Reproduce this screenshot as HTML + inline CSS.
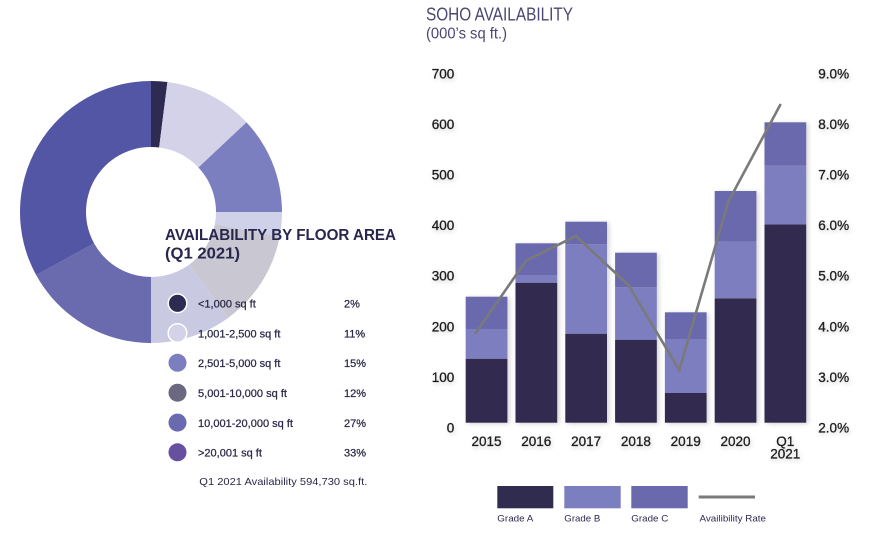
<!DOCTYPE html>
<html>
<head>
<meta charset="utf-8">
<style>
  html,body{margin:0;padding:0;background:#fff;}
  svg{display:block;}
  text{font-family:"Liberation Sans",sans-serif;}
</style>
</head>
<body>
<svg width="869" height="546" viewBox="0 0 869 546" xmlns="http://www.w3.org/2000/svg">
  <defs>
    <filter id="sh" x="-20%" y="-10%" width="150%" height="130%">
      <feDropShadow dx="2" dy="1" stdDeviation="2.5" flood-color="#000" flood-opacity="0.18"/>
    </filter>
    <filter id="tsh" x="-30%" y="-50%" width="160%" height="220%">
      <feDropShadow dx="1" dy="2" stdDeviation="2" flood-color="#000" flood-opacity="0.18"/>
    </filter>
  </defs>

  <!-- DONUT -->
  <g>
    <!-- 2% -->
    <path d="M151,81 A131,131 0 0,1 167.42,82.03 L159.15,147.51 A65,65 0 0,0 151,147 Z" fill="#2e2b52"/>
    <!-- 11% -->
    <path d="M167.42,82.03 A131,131 0 0,1 246.50,122.32 L198.38,167.50 A65,65 0 0,0 159.15,147.51 Z" fill="#d4d2e9"/>
    <!-- 15% -->
    <path d="M246.50,122.32 A131,131 0 0,1 279.68,236.55 L214.85,224.18 A65,65 0 0,0 198.38,167.50 Z" fill="#7b7fbf"/>
    <!-- 12% -->
    <path d="M279.68,236.55 A131,131 0 0,1 228.0,317.98 L189.21,264.59 A65,65 0 0,0 214.85,224.18 Z" fill="#6b6882"/>
    <!-- 27% -->
    <path d="M228.0,317.98 A131,131 0 0,1 36.20,275.11 L94.04,243.31 A65,65 0 0,0 189.21,264.59 Z" fill="#6a6aae"/>
    <!-- 33% -->
    <path d="M36.20,275.11 A131,131 0 0,1 151,81 L151,147 A65,65 0 0,0 94.04,243.31 Z" fill="#5355a5"/>
  </g>
  <!-- overlay -->
  <rect x="151" y="212" width="270" height="334" fill="#ffffff" fill-opacity="0.64"/>

  <!-- left title -->
  <text x="165" y="240" font-size="16" font-weight="bold" fill="#28264d" textLength="231" lengthAdjust="spacingAndGlyphs">AVAILABILITY BY FLOOR AREA</text>
  <text x="165" y="258.5" font-size="16" font-weight="bold" fill="#28264d" textLength="75" lengthAdjust="spacingAndGlyphs">(Q1 2021)</text>

  <!-- legend left -->
  <g font-size="11" fill="#2b2948" stroke="#2b2948" stroke-width="0.25">
    <circle cx="177.5" cy="303.3" r="9.3" fill="#2e2b52" stroke="#fff" stroke-width="1.5"/>
    <text x="198" y="307.5">&lt;1,000 sq ft</text>
    <text x="344" y="307.5">2%</text>

    <circle cx="177.5" cy="333" r="9.3" fill="#d4d2e9" stroke="#fff" stroke-width="1.5"/>
    <text x="198" y="337.3" textLength="82.4" lengthAdjust="spacingAndGlyphs">1,001-2,500 sq ft</text>
    <text x="344" y="337.3">11%</text>

    <circle cx="177.5" cy="362.8" r="9" fill="#7b7fbf" stroke="none"/>
    <text x="198" y="367" textLength="82.4" lengthAdjust="spacingAndGlyphs">2,501-5,000 sq ft</text>
    <text x="344" y="367">15%</text>

    <circle cx="177.5" cy="392.7" r="9" fill="#6b6882" stroke="none"/>
    <text x="198" y="397" textLength="89" lengthAdjust="spacingAndGlyphs">5,001-10,000 sq ft</text>
    <text x="344" y="397">12%</text>

    <circle cx="177.5" cy="422.6" r="9" fill="#6a6ab0" stroke="none"/>
    <text x="198" y="426.8" textLength="95" lengthAdjust="spacingAndGlyphs">10,001-20,000 sq ft</text>
    <text x="344" y="426.8">27%</text>

    <circle cx="177.5" cy="452.3" r="9" fill="#6650a0" stroke="none"/>
    <text x="198" y="456.5">&gt;20,001 sq ft</text>
    <text x="344" y="456.5">33%</text>
  </g>
  <text x="199.3" y="485" font-size="10.5" fill="#2b2948" textLength="168" lengthAdjust="spacingAndGlyphs">Q1 2021 Availability 594,730 sq.ft.</text>

  <!-- RIGHT CHART TITLE -->
  <text x="426" y="20.7" font-size="18" fill="#4b4772" textLength="147" lengthAdjust="spacingAndGlyphs">SOHO AVAILABILITY</text>
  <text x="426" y="38.5" font-size="15.5" fill="#4b4772" textLength="81" lengthAdjust="spacingAndGlyphs">(000’s sq ft.)</text>

  <!-- left axis labels -->
  <g font-size="13.5" fill="#1e1e1e" stroke="#1e1e1e" stroke-width="0.3" text-anchor="end" filter="url(#tsh)">
    <text x="454.3" y="78.3">700</text>
    <text x="454.3" y="129">600</text>
    <text x="454.3" y="179.5">500</text>
    <text x="454.3" y="230.1">400</text>
    <text x="454.3" y="280.7">300</text>
    <text x="454.3" y="331.3">200</text>
    <text x="454.3" y="381.9">100</text>
    <text x="454.3" y="432.5">0</text>
  </g>
  <!-- right axis labels -->
  <g font-size="13.5" fill="#1e1e1e" stroke="#1e1e1e" stroke-width="0.3" filter="url(#tsh)">
    <text x="818.3" y="78.3">9.0%</text>
    <text x="818.3" y="129">8.0%</text>
    <text x="818.3" y="179.5">7.0%</text>
    <text x="818.3" y="230.1">6.0%</text>
    <text x="818.3" y="280.7">5.0%</text>
    <text x="818.3" y="331.3">4.0%</text>
    <text x="818.3" y="381.9">3.0%</text>
    <text x="818.3" y="432.5">2.0%</text>
  </g>

  <!-- BARS -->
  <g filter="url(#sh)">
    <!-- 2015 -->
    <rect x="465.7" y="358.7" width="41.7" height="64" fill="#302c50"/>
    <rect x="465.7" y="329" width="41.7" height="29.7" fill="#7b7ebf"/>
    <rect x="465.7" y="296.7" width="41.7" height="32.3" fill="#6a69ae"/>
    <!-- 2016 -->
    <rect x="515.5" y="282.7" width="41.7" height="140" fill="#302c50"/>
    <rect x="515.5" y="275" width="41.7" height="7.7" fill="#7b7ebf"/>
    <rect x="515.5" y="243.3" width="41.7" height="31.7" fill="#6a69ae"/>
    <!-- 2017 -->
    <rect x="565.3" y="333.7" width="41.7" height="89" fill="#302c50"/>
    <rect x="565.3" y="244.3" width="41.7" height="89.4" fill="#7b7ebf"/>
    <rect x="565.3" y="221.7" width="41.7" height="22.6" fill="#6a69ae"/>
    <!-- 2018 -->
    <rect x="615.1" y="339.7" width="41.7" height="83" fill="#302c50"/>
    <rect x="615.1" y="287.3" width="41.7" height="52.4" fill="#7b7ebf"/>
    <rect x="615.1" y="252.7" width="41.7" height="34.6" fill="#6a69ae"/>
    <!-- 2019 -->
    <rect x="664.9" y="393" width="41.7" height="29.7" fill="#302c50"/>
    <rect x="664.9" y="339" width="41.7" height="54" fill="#7b7ebf"/>
    <rect x="664.9" y="312.3" width="41.7" height="26.7" fill="#6a69ae"/>
    <!-- 2020 -->
    <rect x="714.7" y="298.3" width="41.7" height="124.4" fill="#302c50"/>
    <rect x="714.7" y="241.7" width="41.7" height="56.6" fill="#7b7ebf"/>
    <rect x="714.7" y="191" width="41.7" height="50.7" fill="#6a69ae"/>
    <!-- Q1 2021 -->
    <rect x="764.5" y="224.3" width="41.7" height="198.4" fill="#302c50"/>
    <rect x="764.5" y="165.7" width="41.7" height="58.6" fill="#7b7ebf"/>
    <rect x="764.5" y="122.3" width="41.7" height="43.4" fill="#6a69ae"/>
  </g>

  <!-- LINE -->
  <polyline points="475,334 526,260.7 576,236 628.3,285 679.3,370 728.3,201.7 780.7,104" fill="none" stroke="#7a7a7a" stroke-width="2.6" stroke-linejoin="miter"/>

  <!-- x labels -->
  <g font-size="13.5" fill="#1e1e1e" stroke="#1e1e1e" stroke-width="0.3" text-anchor="middle" filter="url(#tsh)">
    <text x="486.5" y="446">2015</text>
    <text x="536.3" y="446">2016</text>
    <text x="586.1" y="446">2017</text>
    <text x="635.9" y="446">2018</text>
    <text x="685.7" y="446">2019</text>
    <text x="735.5" y="446">2020</text>
    <text x="785.3" y="446">Q1</text>
    <text x="785.3" y="458.5">2021</text>
  </g>

  <!-- bottom legend -->
  <rect x="497.3" y="486" width="56" height="22.3" fill="#302c50"/>
  <rect x="564.3" y="486" width="56.4" height="22.3" fill="#7b7ebf"/>
  <rect x="631.3" y="486" width="56.4" height="22.3" fill="#6a69ae"/>
  <line x1="698.7" y1="497" x2="755" y2="497" stroke="#7a7a7a" stroke-width="3"/>
  <g font-size="9.5" fill="#2c2a50">
    <text x="497.3" y="521.7" textLength="36" lengthAdjust="spacingAndGlyphs">Grade A</text>
    <text x="564.3" y="521.7" textLength="36" lengthAdjust="spacingAndGlyphs">Grade B</text>
    <text x="631.3" y="521.7" textLength="37" lengthAdjust="spacingAndGlyphs">Grade C</text>
    <text x="699.5" y="521.7" textLength="66.5" lengthAdjust="spacingAndGlyphs">Availibility Rate</text>
  </g>
</svg>
</body>
</html>
